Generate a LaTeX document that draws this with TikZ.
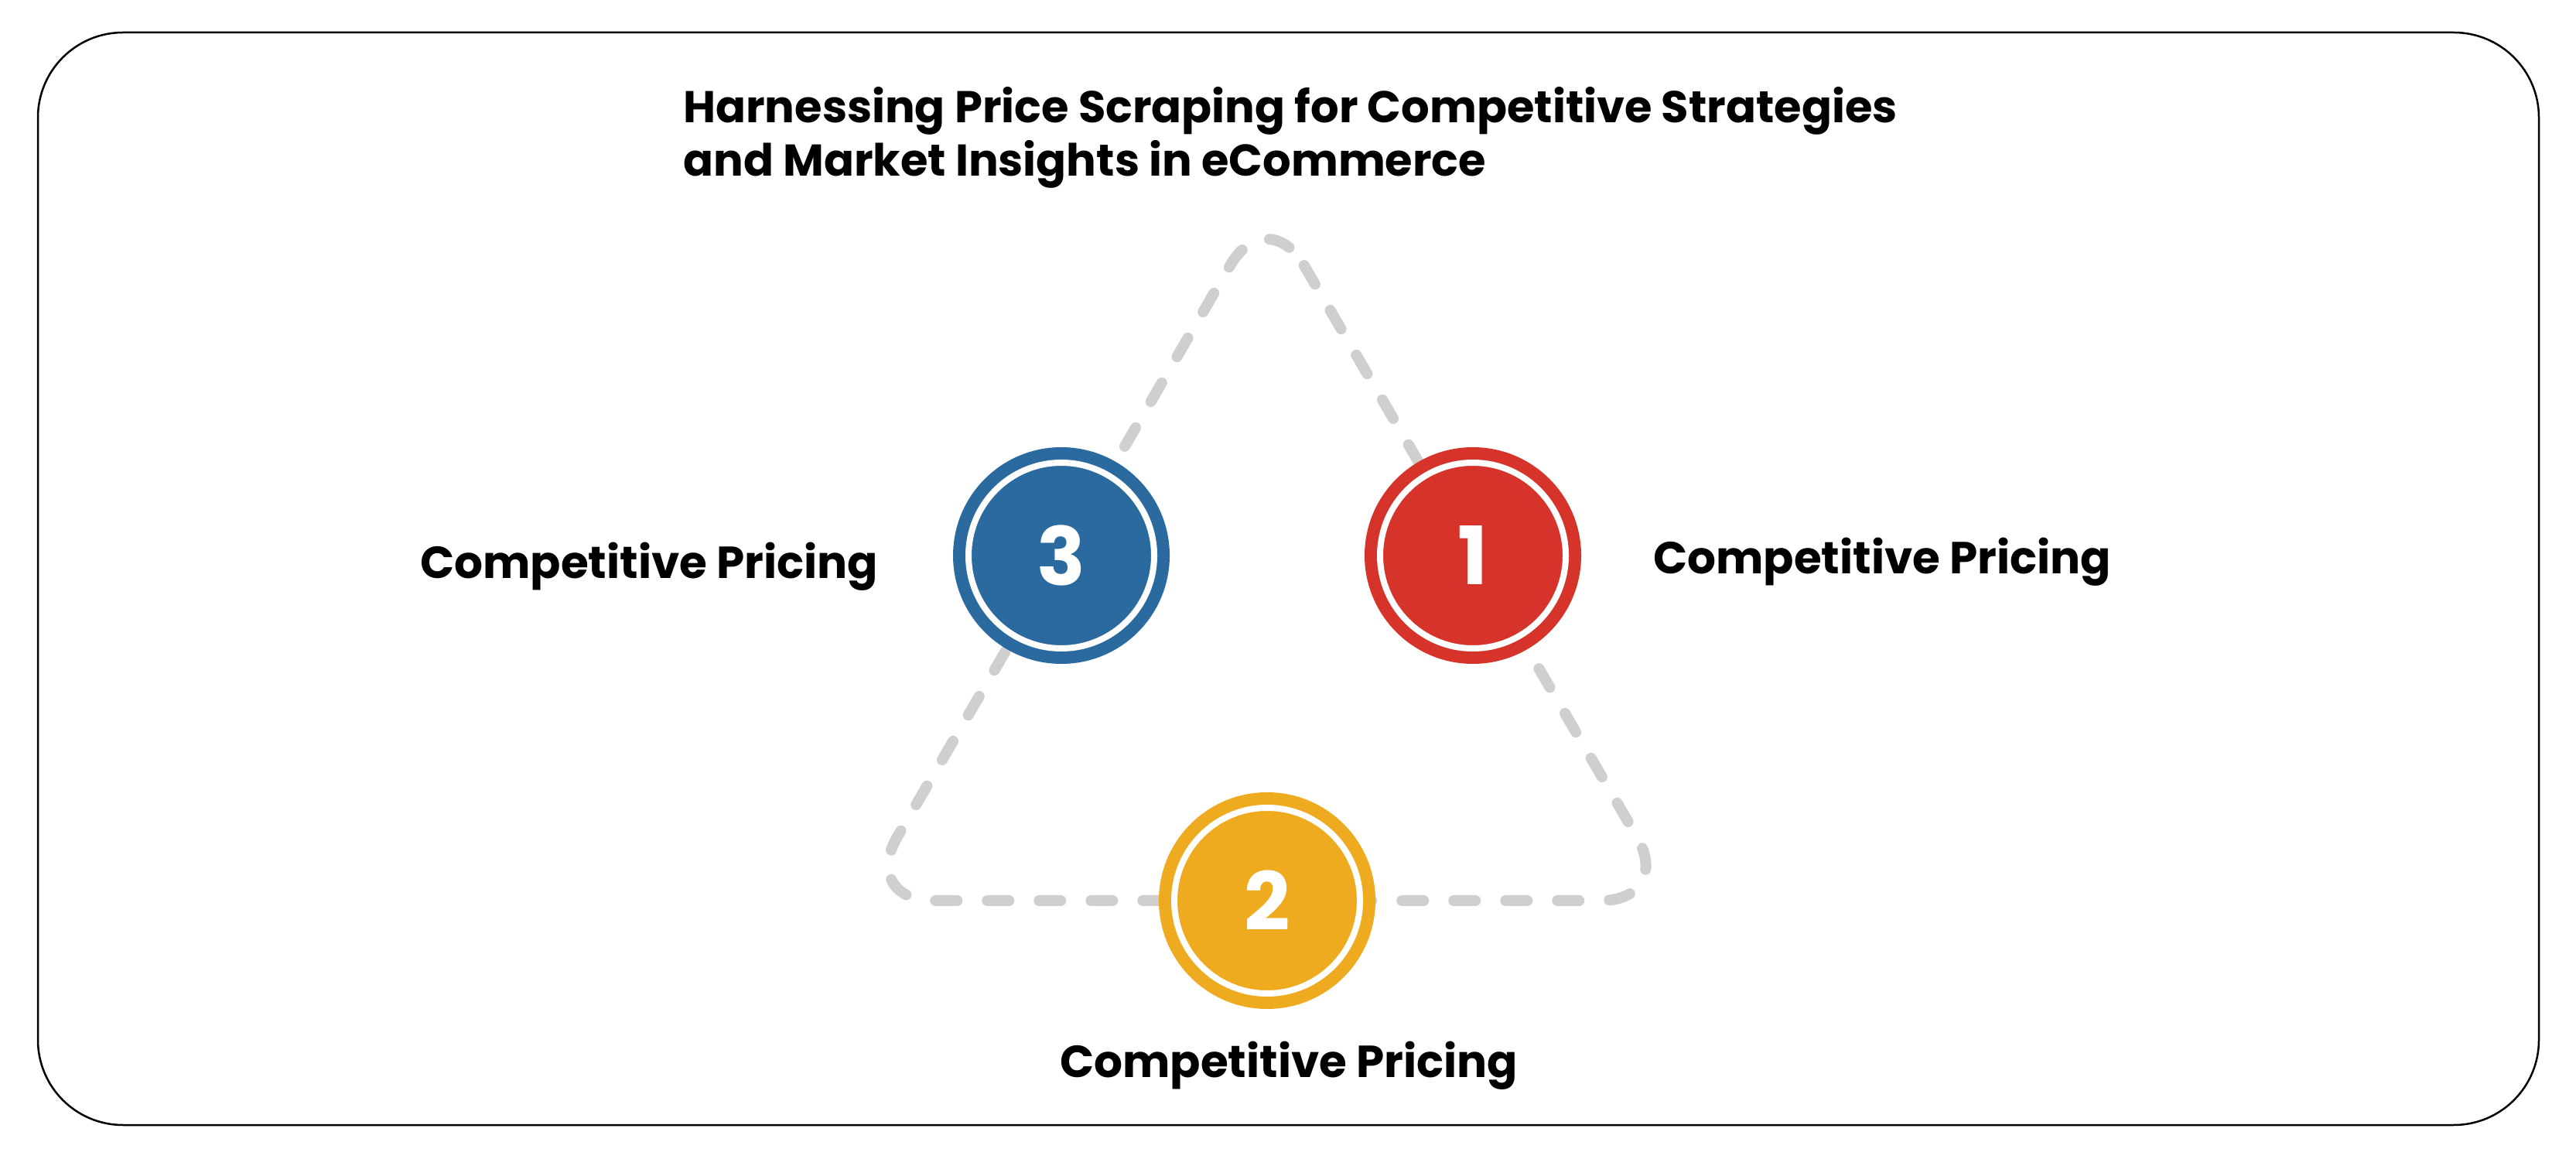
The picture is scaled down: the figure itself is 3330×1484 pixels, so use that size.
\documentclass[tikz,border=0pt]{standalone}
\usepackage{fontspec}
\setmainfont{Poppins}
\definecolor{cblue}{HTML}{2B6A9F}
\definecolor{cred}{HTML}{D6342B}
\definecolor{cyellow}{HTML}{EFAB1F}
\definecolor{cdash}{HTML}{CFCFCF}
\tikzset{
  numcircle/.style={circle, minimum size=280pt, inner sep=0pt, text=white,
    font=\fontsize{104}{110}\selectfont\bfseries},
  lbl/.style={anchor=base west, inner sep=0pt, font=\fontsize{58}{66}\selectfont\bfseries},
  ttl/.style={anchor=base west, inner sep=0pt, font=\fontsize{57.5}{69}\selectfont\bfseries},
  dashline/.style={draw=cdash, line width=14pt, line cap=round, dash pattern=on 28pt off 39pt, rounded corners=95pt},
  ring/.style={draw=white, line width=8pt}
}
\begin{document}
\begin{tikzpicture}[x=1pt,y=1pt]
\useasboundingbox (0,0) rectangle (3330,1484);
\fill[white] (0,0) rectangle (3330,1484);
\draw[line width=2.5pt, rounded corners=110pt] (49,1442) rectangle (3282,30);

\node[ttl] (t1) at (883,1325) {Harnessing Price Scraping for Competitive Strategies};
\node[ttl] (t2) at (883,1256) {and Market Insights in eCommerce};

\coordinate (apex) at (1638,1223);
\coordinate (br) at (2164,320);
\coordinate (bl) at (1112,320);
\draw[dashline] (apex) -- (br) -- (bl) -- cycle;

\node[numcircle, fill=cblue] (c3) at (1372,766) {3};
\node[numcircle, fill=cred] (c1) at (1904,766) {1};
\node[numcircle, fill=cyellow] (c2) at (1638,320) {2};
\foreach \c in {c1,c2,c3} \draw[ring] (\c) circle[radius=120pt];

\node[lbl] (l3) at (543,736) {Competitive Pricing};
\node[lbl] (l1) at (2137,742) {Competitive Pricing};
\node[lbl] (l2) at (1370,92) {Competitive Pricing};
\end{tikzpicture}
\end{document}
